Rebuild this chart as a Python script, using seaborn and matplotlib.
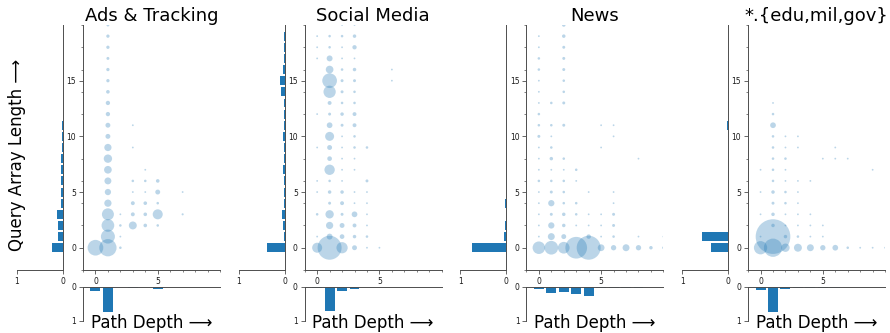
import numpy as np
import pandas as pd
import matplotlib
matplotlib.use("Agg")
import matplotlib.pyplot as plt
from matplotlib.ticker import MultipleLocator
import seaborn as sns

sns.set_style("ticks")
plt.rcParams["font.family"] = ["DejaVu Sans"]
plt.rcParams["text.color"] = "black"

# ---------------------------------------------------------------- data
CATEGORIES = ["Ads & Tracking", "Social Media", "News", "*.{edu,mil,gov}"]

DEPTHS = list(range(10))          # path depth bins (0..9)
LENGTHS = list(range(21))         # query array length bins (0..20)

# bubble grids: (path depth, query array length, share of URLs)
ads_depth = [0, 1, 1, 1, 1, 1, 1, 1, 1, 1, 1, 1, 1, 1, 1, 1, 1, 1, 1, 1, 1, 1,
             2, 2, 2, 2, 3, 3, 3, 3, 3, 3, 3, 4, 4, 4, 4, 4, 4, 5, 5, 5, 5, 5, 7, 7]
ads_length = [0, 0, 1, 2, 3, 4, 5, 6, 7, 8, 9, 10, 11, 12, 13, 14, 15, 16, 17, 18, 19, 20,
              0, 1, 2, 3, 2, 3, 4, 5, 6, 9, 11, 2, 3, 4, 5, 6, 7, 2, 3, 4, 5, 6, 3, 5]
ads_share = [0.113, 0.137, 0.090, 0.074, 0.066, 0.024, 0.018, 0.022, 0.027, 0.032, 0.024,
             0.011, 0.011, 0.0085, 0.0085, 0.006, 0.005, 0.005, 0.004, 0.005, 0.005, 0.004,
             0.003, 0.0015, 0.003, 0.0015, 0.029, 0.007, 0.007, 0.0015, 0.003, 0.0015, 0.0015,
             0.006, 0.006, 0.006, 0.0015, 0.003, 0.0015, 0.003, 0.046, 0.003, 0.011, 0.006,
             0.002, 0.0015]

social_depth = [0, 0, 0, 0, 0, 0, 0, 0, 0, 0,
                1, 1, 1, 1, 1, 1, 1, 1, 1, 1, 1, 1, 1, 1, 1, 1, 1, 1, 1, 1,
                2, 2, 2, 2, 2, 2, 2, 2, 2, 2, 2, 2, 2, 2, 2, 2, 2, 2, 2, 2, 2,
                3, 3, 3, 3, 3, 3, 3, 3, 3, 3, 3, 3, 3, 3, 3, 3, 3, 3, 3, 3,
                4, 4, 4, 4, 4, 4, 4, 4, 5, 6, 6]
social_length = [0, 1, 3, 5, 6, 9, 12, 17, 18, 19,
                 0, 1, 2, 3, 4, 5, 6, 7, 8, 9, 10, 11, 12, 13, 14, 15, 16, 17, 18, 19,
                 0, 1, 2, 3, 4, 5, 6, 7, 8, 9, 10, 11, 12, 13, 14, 15, 16, 17, 18, 19, 20,
                 0, 1, 2, 3, 4, 5, 7, 8, 9, 10, 11, 12, 13, 14, 15, 16, 17, 18, 19, 20,
                 0, 1, 2, 3, 4, 5, 6, 9, 0, 15, 16]
social_share = [0.046, 0.0015, 0.003, 0.0015, 0.0015, 0.0015, 0.0015, 0.0015, 0.0015, 0.0015,
                0.264, 0.016, 0.024, 0.032, 0.004, 0.0056, 0.003, 0.049, 0.010, 0.011, 0.037,
                0.015, 0.004, 0.007, 0.069, 0.099, 0.027, 0.016, 0.003, 0.003,
                0.058, 0.010, 0.011, 0.004, 0.007, 0.0056, 0.0015, 0.0015, 0.0015, 0.0015,
                0.0015, 0.004, 0.0056, 0.003, 0.004, 0.004, 0.003, 0.0015, 0.0015, 0.003, 0.0015,
                0.011, 0.0056, 0.007, 0.015, 0.0015, 0.0015, 0.0015, 0.0015, 0.003, 0.003,
                0.007, 0.007, 0.003, 0.003, 0.004, 0.0056, 0.0015, 0.0085, 0.0056, 0.0015,
                0.0015, 0.003, 0.0015, 0.0015, 0.0015, 0.0015, 0.004, 0.003, 0.0015, 0.0015,
                0.0015]

news_depth = [0] * 20 + [1] * 13 + [2] * 18 + [3] * 6 + [4] * 5 + [5] * 6 + [6] * 8 \
    + [7, 8, 8, 8, 9, 10, 10]
news_length = list(range(20)) \
    + [0, 1, 2, 3, 4, 5, 6, 7, 8, 9, 10, 11, 13] \
    + [0, 1, 2, 3, 4, 5, 6, 7, 8, 11, 13, 14, 15, 16, 17, 18, 19, 20] \
    + [0, 2, 3, 4, 6, 7] \
    + [0, 1, 2, 3, 5] \
    + [0, 1, 2, 3, 9, 11] \
    + [0, 1, 2, 3, 4, 5, 10, 11] \
    + [0, 0, 1, 8, 0, 0, 1]
news_share = [0.072, 0.0015, 0.0015, 0.0015, 0.0015, 0.0015, 0.003, 0.0015, 0.0015, 0.0015,
              0.004, 0.003, 0.003, 0.0015, 0.0015, 0.0015, 0.003, 0.003, 0.0015, 0.0015] \
    + [0.086, 0.022, 0.018, 0.004, 0.018, 0.004, 0.003, 0.0015, 0.0056, 0.003, 0.0015,
       0.003, 0.003] \
    + [0.063, 0.011, 0.0056, 0.0056, 0.003, 0.003, 0.003, 0.0015, 0.003, 0.004, 0.004,
       0.003, 0.003, 0.004, 0.004, 0.004, 0.0056, 0.0056] \
    + [0.216, 0.0015, 0.003, 0.003, 0.0015, 0.003] \
    + [0.264, 0.009, 0.0015, 0.0015, 0.0015] \
    + [0.021, 0.0015, 0.0015, 0.0015, 0.0015, 0.0015] \
    + [0.013, 0.003, 0.004, 0.004, 0.0015, 0.0015, 0.0015, 0.0015] \
    + [0.022, 0.013, 0.0015, 0.0015, 0.0056, 0.003, 0.0015]

gov_depth = [0] * 5 + [1] * 14 + [2] * 11 + [3] * 9 + [4] * 5 + [5] * 4 + [6] * 3 \
    + [7, 7, 8, 9, 9, 10]
gov_length = [0, 1, 3, 5, 7] \
    + [0, 1, 2, 3, 4, 5, 6, 7, 8, 9, 10, 11, 12, 13] \
    + [0, 1, 2, 3, 4, 5, 6, 7, 8, 9, 10] \
    + [0, 1, 2, 3, 4, 5, 6, 9, 10] \
    + [0, 1, 2, 3, 6] \
    + [0, 1, 2, 8] \
    + [0, 8, 9] \
    + [0, 8, 0, 0, 7, 0]
gov_share = [0.081, 0.0015, 0.0015, 0.0015, 0.0015] \
    + [0.153, 0.551, 0.0056, 0.0056, 0.004, 0.0056, 0.003, 0.003, 0.003, 0.003, 0.003,
       0.015, 0.003, 0.0015] \
    + [0.032, 0.0056, 0.0015, 0.0015, 0.003, 0.003, 0.0015, 0.0015, 0.003, 0.0015, 0.0015] \
    + [0.029, 0.003, 0.0015, 0.0015, 0.0015, 0.0015, 0.0015, 0.0015, 0.0015] \
    + [0.022, 0.0015, 0.0015, 0.0015, 0.0015] \
    + [0.013, 0.0015, 0.0015, 0.0015] \
    + [0.015, 0.0015, 0.0015] \
    + [0.003, 0.0015, 0.0015, 0.0015, 0.0015, 0.0015]

# marginal distributions (fraction of URLs)
ads_depth_hist = [0.11, 0.74, 0.01, 0.04, 0.01, 0.06, 0, 0, 0, 0]
social_depth_hist = [0.04, 0.72, 0.11, 0.06, 0.01, 0, 0, 0, 0, 0]
news_depth_hist = [0.06, 0.18, 0.15, 0.21, 0.27, 0.03, 0.03, 0.03, 0.02, 0.01]
gov_depth_hist = [0.08, 0.74, 0.05, 0.04, 0.03, 0.02, 0.02, 0.01, 0, 0]

ads_length_hist = [0.25, 0.11, 0.11, 0.13, 0.036, 0.036, 0.036, 0.036, 0.04, 0.03, 0.015,
                   0.015, 0.008, 0.003, 0.002, 0.002, 0.002, 0.002, 0.002, 0.002, 0.002]
social_length_hist = [0.38, 0.02, 0.04, 0.05, 0.01, 0.01, 0.005, 0.045, 0.01, 0.01, 0.045,
                      0.02, 0.01, 0.01, 0.07, 0.11, 0.03, 0.02, 0.01, 0.005, 0.002]
news_length_hist = [0.74, 0.05, 0.03, 0.015, 0.025, 0.005, 0.005, 0.005, 0.005, 0.002, 0.004,
                    0.004, 0.002, 0.003, 0.002, 0.002, 0.003, 0.003, 0.002, 0.002, 0.002]
gov_length_hist = [0.37, 0.565, 0.01, 0.01, 0.005, 0.005, 0.003, 0.003, 0.003, 0.003, 0.003,
                   0.02, 0.003, 0.002, 0, 0, 0, 0, 0, 0, 0]

PANELS = [
    (ads_depth, ads_length, ads_share, ads_depth_hist, ads_length_hist),
    (social_depth, social_length, social_share, social_depth_hist, social_length_hist),
    (news_depth, news_length, news_share, news_depth_hist, news_length_hist),
    (gov_depth, gov_length, gov_share, gov_depth_hist, gov_length_hist),
]

# ---------------------------------------------------------------- style
BLUE = "#1f77b4"
SPINE = "0.3"
SIZE_SCALE = 1130          # marker area (pt^2) for a share of 1.0
TICK_FS = 5.5

W, H = 890, 333
fig = plt.figure(figsize=(W / 100, H / 100), dpi=100)


def px_axes(left, top, width, height):
    return fig.add_axes([left / W, 1 - (top + height) / H, width / W, height / H])


def style_ticks(ax):
    ax.tick_params(which="major", length=3, width=0.6, color=SPINE,
                   labelsize=TICK_FS, pad=2, labelcolor="0.1")
    ax.tick_params(which="minor", length=1.6, width=0.5, color=SPINE)
    for sp in ax.spines.values():
        sp.set_color(SPINE)
        sp.set_linewidth(0.7)


PITCH = 221.7
for i, (title, (dep, ln, share, dep_hist, len_hist)) in enumerate(zip(CATEGORIES, PANELS)):
    off = i * PITCH
    ax_len = px_axes(17 + off, 25, 46, 245)
    ax_sc = px_axes(83 + off, 25, 137, 245)
    ax_dep = px_axes(83 + off, 287, 137, 34)

    # bubble plot: depth vs. query array length, area ~ share
    pts = pd.DataFrame({"depth": dep, "length": ln, "share": share})
    sns.scatterplot(data=pts, x="depth", y="length", size="share",
                    sizes=(0, SIZE_SCALE), size_norm=(0, 1), color=BLUE,
                    alpha=0.3, linewidth=0, legend=False, ax=ax_sc)
    ax_sc.set_xlim(-1, 10)
    ax_sc.set_ylim(-2, 20)
    ax_sc.set_xticks([0, 5])
    ax_sc.set_yticks([0, 5, 10, 15])
    ax_sc.xaxis.set_minor_locator(MultipleLocator(1))
    ax_sc.yaxis.set_minor_locator(MultipleLocator(2))
    ax_sc.set_xlabel("")
    ax_sc.set_ylabel("")
    sns.despine(ax=ax_sc)
    style_ticks(ax_sc)
    ax_sc.set_title(title, fontsize=13, pad=3, color="black")

    # marginal: query array length (bars grow leftwards)
    lh = pd.DataFrame({"length": LENGTHS, "frac": len_hist})
    sns.barplot(data=lh, x="frac", y="length", orient="y", native_scale=True,
                color=BLUE, saturation=1, errorbar=None, width=0.8,
                linewidth=0, ax=ax_len)
    ax_len.set_xlim(1, 0)
    ax_len.set_ylim(-2, 20)
    ax_len.set_xticks([1, 0])
    ax_len.set_xticklabels(["1", "0"])
    ax_len.set_yticks([])
    ax_len.set_xlabel("")
    ax_len.set_ylabel("")
    ax_len.spines["left"].set_visible(False)
    ax_len.spines["top"].set_visible(False)
    style_ticks(ax_len)

    # marginal: path depth (bars grow downwards)
    dh = pd.DataFrame({"depth": DEPTHS, "frac": dep_hist})
    sns.barplot(data=dh, x="depth", y="frac", orient="x", native_scale=True,
                color=BLUE, saturation=1, errorbar=None, width=0.8,
                linewidth=0, ax=ax_dep)
    ax_dep.set_xlim(-1, 10)
    ax_dep.set_ylim(1, 0)
    ax_dep.set_yticks([0, 1])
    ax_dep.set_yticklabels(["0", "1"])
    ax_dep.set_xticks([])
    ax_dep.set_xlabel("")
    ax_dep.set_ylabel("")
    ax_dep.spines["right"].set_visible(False)
    ax_dep.spines["bottom"].set_visible(False)
    style_ticks(ax_dep)

    fig.text((83 + off + 68.5) / W, (H - 327.7) / H, "Path Depth \u27f6",
             ha="center", va="baseline", fontsize=12, color="black")

fig.text(17.5 / W, 1 - 154.5 / H, "Query Array Length \u27f6", rotation=90,
         ha="center", va="center", fontsize=12, color="black")

fig.savefig("out.png", dpi=100)
